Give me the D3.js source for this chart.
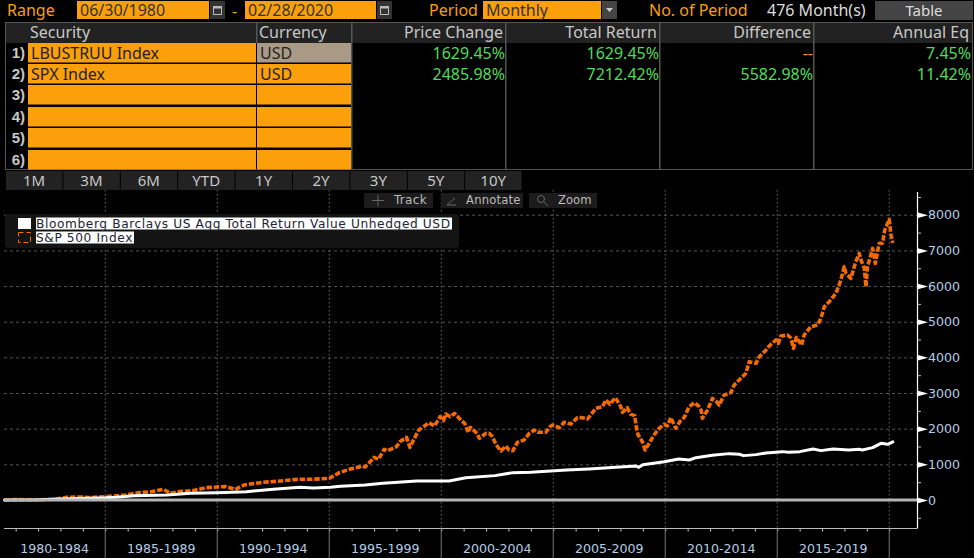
<!DOCTYPE html>
<html>
<head>
<meta charset="utf-8">
<script src="https://cdn.jsdelivr.net/npm/d3@7"></script>
<style>
  html, body { margin: 0; padding: 0; background: #000; overflow: hidden; }
  text { font-family: "DejaVu Sans", sans-serif; }
  .ui text { font-family: "Noto Sans", sans-serif; }
</style>
</head>
<body>
<svg id="chart" width="974" height="558"></svg>
<script>
// values (decimal year, cumulative total return %)
var spxYears = [1980.5, 1981, 1982, 1982.7, 1983.3, 1983.87, 1984.3, 1985, 1985.5, 1985.9, 1986.5, 1987.1, 1987.6, 1987.9, 1988.3, 1988.9, 1989.5, 1990, 1990.4, 1990.8, 1991.2, 1992, 1992.7, 1993.6, 1994.2, 1995, 1995.45, 1995.9, 1996.5, 1996.6, 1996.9, 1997, 1997.2, 1997.45, 1997.6, 1998, 1998.15, 1998.45, 1998.6, 1998.8, 1999, 1999.25, 1999.45, 1999.7, 1999.95, 2000.1, 2000.2, 2000.4, 2000.6, 2000.9, 2001.05, 2001.2, 2001.3, 2001.6, 2001.7, 2001.85, 2002, 2002.14, 2002.29, 2002.44, 2002.66, 2002.88, 2003.03, 2003.2, 2003.4, 2003.7, 2003.93, 2004.15, 2004.3, 2004.67, 2004.85, 2004.97, 2005.27, 2005.49, 2005.79, 2006.08, 2006.3, 2006.53, 2006.9, 2007.2, 2007.35, 2007.53, 2007.77, 2008.02, 2008.1, 2008.3, 2008.46, 2008.64, 2008.69, 2008.79, 2008.98, 2009.1, 2009.28, 2009.5, 2009.73, 2009.95, 2010.1, 2010.25, 2010.47, 2010.65, 2010.85, 2011.07, 2011.3, 2011.49, 2011.6, 2011.66, 2011.89, 2012.11, 2012.26, 2012.41, 2012.63, 2012.93, 2013.08, 2013.3, 2013.6, 2013.75, 2014.05, 2014.2, 2014.5, 2014.64, 2014.94, 2015.05, 2015.16, 2015.46, 2015.6, 2015.73, 2015.85, 2016.09, 2016.2, 2016.5, 2016.8, 2016.95, 2017.1, 2017.32, 2017.62, 2017.84, 2017.99, 2018.07, 2018.29, 2018.48, 2018.66, 2018.74, 2018.89, 2018.96, 2019.03, 2019.26, 2019.38, 2019.55, 2019.7, 2019.8, 2020, 2020.08, 2020.16];
var spxValues = [0, 10, 5, 20, 75, 85, 65, 93, 120, 140, 205, 235, 300, 187, 235, 262, 345, 365, 375, 300, 420, 495, 525, 580, 580, 608, 766, 860, 953, 925, 1122, 1197, 1141, 1421, 1383, 1495, 1635, 1757, 1477, 1729, 1963, 2075, 2168, 2075, 2337, 2224, 2412, 2337, 2430, 2224, 2150, 1898, 2038, 1870, 1729, 1800, 1870, 1869, 1776, 1561, 1374, 1514, 1402, 1384, 1617, 1682, 1869, 1963, 1898, 1898, 2056, 2103, 2028, 2178, 2131, 2309, 2309, 2271, 2571, 2617, 2804, 2683, 2869, 2617, 2458, 2589, 2402, 2365, 2103, 1823, 1635, 1402, 1589, 1823, 2010, 2122, 2080, 2309, 2010, 2197, 2318, 2617, 2729, 2636, 2524, 2290, 2524, 2851, 2780, 2664, 2944, 3010, 3225, 3365, 3552, 3879, 3832, 4019, 4206, 4318, 4487, 4393, 4599, 4627, 4550, 4254, 4560, 4347, 4627, 4860, 4907, 5094, 5420, 5560, 5795, 6169, 6542, 6356, 6216, 6637, 6917, 6730, 6497, 5981, 6542, 7057, 6637, 7197, 7200, 7571, 7870, 7431, 7212];

var aggYears = [1980.5, 1982, 1983, 1985, 1985.5, 1986.25, 1987.75, 1988.8, 1990, 1991.3, 1992.5, 1993.7, 1994.3, 1995.06, 1995.5, 1996.6, 1997.4, 1998.9, 2000.35, 2001.1, 2002.4, 2003.2, 2004, 2005.6, 2006.6, 2007.8, 2008.7, 2008.82, 2009, 2009.96, 2010.6, 2011.07, 2011.37, 2012.1, 2012.86, 2013.3, 2013.5, 2014.05, 2014.5, 2015.24, 2015.5, 2016, 2016.6, 2016.95, 2017.5, 2018.2, 2018.66, 2018.8, 2019.26, 2019.63, 2019.93, 2020.16];
var aggValues = [0, 5, 30, 60, 75, 121, 140, 187, 205, 234, 300, 355, 337, 355, 383, 420, 467, 533, 533, 626, 683, 767, 776, 841, 870, 916, 954, 916, 991, 1075, 1150, 1122, 1187, 1253, 1300, 1281, 1244, 1272, 1318, 1356, 1337, 1356, 1430, 1384, 1430, 1402, 1421, 1402, 1468, 1589, 1561, 1629];

var yMajor = [0, 1000, 2000, 3000, 4000, 5000, 6000, 7000, 8000];
var yMinor = [-500, 500, 1500, 2500, 3500, 4500, 5500, 6500, 7500, 8500];
var decadeTicks = [1985, 1990, 1995, 2000, 2005, 2010, 2015, 2020];
var yearTicks = d3.range(1981, 2021);
var periodLabels = ["1980-1984", "1985-1989", "1990-1994", "1995-1999", "2000-2004", "2005-2009", "2010-2014", "2015-2019"];
var periodStart = [1980, 1985, 1990, 1995, 2000, 2005, 2010, 2015];

var securities = ["LBUSTRUU Index", "SPX Index", "", "", "", ""];
var currencies = ["USD", "USD", "", "", "", ""];
var priceChange = ["1629.45%", "2485.98%"];
var totalReturn = ["1629.45%", "7212.42%"];
var difference = ["--", "5582.98%"];
var annualEq = ["7.45%", "11.42%"];
var rangeButtons = ["1M", "3M", "6M", "YTD", "1Y", "2Y", "3Y", "5Y", "10Y"];

var ORANGE = "#fb9f0a", LABEL = "#b4cde6", GREEN = "#4fdc5a";
var svg = d3.select("#chart");

// ---- top strip and table
var ui = svg.append("g").attr("class", "ui");

function label(g, x, y, str, fill, size, anchor) {
  return g.append("text").attr("x", x).attr("y", y).attr("fill", fill)
    .attr("font-size", size || 16).attr("text-anchor", anchor || "start").text(str);
}
function box(g, x, y, w, h, fill) {
  return g.append("rect").attr("x", x).attr("y", y).attr("width", w).attr("height", h).attr("fill", fill);
}
function calIcon(g, x) {
  box(g, x, 1, 15, 18, "#333");
  g.append("rect").attr("x", x + 3.5).attr("y", 6.5).attr("width", 8).attr("height", 8)
    .attr("fill", "none").attr("stroke", "#bbb");
  box(g, x + 3.5, 6, 8, 2.5, "#bbb");
}

label(ui, 7, 16, "Range", ORANGE);
box(ui, 77, 1, 132, 18, ORANGE);
label(ui, 80, 16, "06/30/1980", "#333");
calIcon(ui, 210);
label(ui, 232, 16.5, "-", ORANGE);
box(ui, 245, 1, 131, 18, ORANGE);
label(ui, 248, 16, "02/28/2020", "#333");
calIcon(ui, 377);
label(ui, 429, 16, "Period", ORANGE);
box(ui, 483, 1, 118, 18, ORANGE);
label(ui, 486, 16, "Monthly", "#333");
box(ui, 602, 1, 15, 18, "#444");
ui.append("path").attr("d", "M606,8h7l-3.5,4z").attr("fill", "#ccc");
label(ui, 649, 16, "No. of Period", ORANGE);
label(ui, 767, 16, "476 Month(s)", "#ddd");
box(ui, 875, 1, 98, 19, "#444");
label(ui, 924, 15.5, "Table", "#ddd", 15, "middle");

var colEdges = [28, 257, 352, 506, 660, 814, 972];
var headers = ["Security", "Currency", "Price Change", "Total Return", "Difference", "Annual Eq"];

// table frame + header
box(ui, 5, 22, 968, 148, "#555");
box(ui, 6, 23, 966, 146, "#000");
box(ui, 6, 23, 966, 20, "#222");
headers.forEach(function (h, i) {
  if (i > 0) box(ui, colEdges[i] - 1, 23, 1.5, i > 1 ? 146 : 20, "#555");
  if (i < 2) label(ui, colEdges[i] + 2, 37.5, h, "#c8c8c8");
  else label(ui, colEdges[i + 1] - 3, 37.5, h, "#c8c8c8", 16, "end");
});

var rowY = [43, 64, 85, 107, 128, 150];
securities.forEach(function (s, i) {
  box(ui, 28, rowY[i], 228, 19.5, ORANGE);
  box(ui, 257, rowY[i], 94, 19.5, i == 0 ? "#a89a85" : ORANGE);
  label(ui, 25, rowY[i] + 15, (i + 1) + ")", "#c8c8c8", 15, "end")
    .attr("font-weight", "bold").style("font-family", "'Liberation Sans Narrow', 'Liberation Sans', sans-serif");
  if (s) {
    label(ui, 31, rowY[i] + 15.5, s, "#222");
    label(ui, 260, rowY[i] + 15.5, currencies[i], "#222");
  }
});
[priceChange, totalReturn, difference, annualEq].forEach(function (col, c) {
  col.forEach(function (v, i) {
    label(ui, colEdges[c + 3] - 1, rowY[i] + 15.5, v, v == "--" ? ORANGE : GREEN, 16, "end");
  });
});

rangeButtons.forEach(function (b, i) {
  box(ui, 6 + i * 57.4, 171, 56.4, 19, "#222");
  label(ui, 34 + i * 57.4, 186, b, "#c8c8c8", 15, "middle");
});

// ---- chart
var x = d3.scaleLinear().domain([1980.48, 2021.24]).range([4, 917]);
var y = d3.scaleLinear().domain([-800, 8700]).range([528.5, 189.8]);

// grid
svg.append("g").selectAll("line").data(yMajor).enter().append("line")
  .attr("x1", 4).attr("x2", 917)
  .attr("y1", function (d) { return y(d) + 0.5; }).attr("y2", function (d) { return y(d) + 0.5; })
  .attr("stroke", "#555").attr("stroke-dasharray", "3,3");
svg.append("g").selectAll("line").data(decadeTicks).enter().append("line")
  .attr("x1", function (d) { return x(d); }).attr("x2", function (d) { return x(d); })
  .attr("y1", 190).attr("y2", 528)
  .attr("stroke", "#666").attr("stroke-dasharray", "1.5,2.5");

// series
var line = d3.line().x(function (d) { return x(d[0]); }).y(function (d) { return y(d[1]); });
svg.append("path").datum(d3.zip(spxYears, spxValues)).attr("d", line)
  .attr("fill", "none").attr("stroke", "#f26a02").attr("stroke-width", 3.6)
  .attr("stroke-linejoin", "round").attr("stroke-dasharray", "5.5,1.8");
svg.append("path").datum(d3.zip(aggYears, aggValues)).attr("d", line)
  .attr("fill", "none").attr("stroke", "#fff").attr("stroke-width", 3)
  .attr("stroke-linejoin", "round").attr("stroke-linecap", "round");

// zero line
svg.append("line").attr("x1", 4).attr("x2", 917).attr("y1", y(0)).attr("y2", y(0))
  .attr("stroke", "#b4b4b4").attr("stroke-width", 3);

// y axis
var yAxis = svg.append("g").attr("transform", "translate(917,0)")
  .call(d3.axisRight(y).tickValues(yMajor).tickSize(0).tickPadding(11).tickFormat(d3.format("d")));
yAxis.select(".domain").remove();
yAxis.selectAll("text").attr("fill", LABEL).attr("font-size", 12.6);
yAxis.selectAll(".tick").append("path").attr("d", "M0,-3L11,0L0,3z").attr("fill", "#fff");
var yMinorAxis = svg.append("g").attr("transform", "translate(917,0)")
  .call(d3.axisRight(y).tickValues(yMinor).tickSize(4).tickFormat(""));
yMinorAxis.select(".domain").remove();
yMinorAxis.selectAll("line").attr("stroke", "#bbb");
svg.append("line").attr("x1", 917.5).attr("x2", 917.5).attr("y1", 192).attr("y2", 528.5)
  .attr("stroke", "#fff").attr("stroke-width", 1.2);

// x axis
var xAxis = svg.append("g").attr("transform", "translate(0,528.5)")
  .call(d3.axisBottom(x).tickValues(yearTicks).tickSize(3).tickFormat(""));
xAxis.select(".domain").remove();
xAxis.selectAll("line").attr("stroke", "#ccc");
svg.append("line").attr("x1", 4).attr("x2", 917).attr("y1", 528.5).attr("y2", 528.5).attr("stroke", "#bbb");
svg.append("g").selectAll("line").data(decadeTicks).enter().append("line")
  .attr("x1", function (d) { return x(d); }).attr("x2", function (d) { return x(d); })
  .attr("y1", 528.5).attr("y2", 558).attr("stroke", "#777");
svg.append("g").selectAll("text").data(periodLabels).enter().append("text")
  .attr("x", function (d, i) {
    var a = Math.max(x(periodStart[i]), 4);
    return (a + x(periodStart[i] + 5)) / 2;
  })
  .attr("y", 553).attr("text-anchor", "middle").attr("fill", LABEL).attr("font-size", 12.6).text(function (d) { return d; });

// legend
var lg = svg.append("g");
lg.append("rect").attr("x", 5).attr("y", 214).attr("width", 454).attr("height", 34).attr("rx", 3).attr("fill", "#141414");
box(lg, 18, 218, 13, 11, "#fff");
lg.append("rect").attr("x", 18.5).attr("y", 232.5).attr("width", 12).attr("height", 10).attr("fill", "none")
  .attr("stroke", "#f26a02").attr("stroke-dasharray", "5,3");
box(lg, 36, 217.5, 416, 12, "#fff");
box(lg, 36, 231.5, 98, 12, "#fff");
label(lg, 36, 227.5, "Bloomberg Barclays US Agg Total Return Value Unhedged USD", "#223", 12.2).attr("letter-spacing", 0.6);
label(lg, 36, 242, "S&P 500 Index", "#223", 12.2).attr("letter-spacing", 0.6);

// toolbar
var tb = svg.append("g");
box(tb, 364, 193, 69, 15, "#1c1c1c");
box(tb, 441, 193, 82, 15, "#1c1c1c");
box(tb, 529, 193, 68, 15, "#1c1c1c");
label(tb, 394, 204, "Track", "#bbb", 12).attr("letter-spacing", 0.3);
label(tb, 466, 204, "Annotate", "#bbb", 11.6).attr("letter-spacing", 0.2);
label(tb, 558, 204, "Zoom", "#bbb", 11.6);
tb.append("path").attr("d", "M372,200.5h12M378,195v11").attr("stroke", "#666").attr("fill", "none");
tb.append("path").attr("d", "M447,205l8,-7M447,205h9").attr("stroke", "#666").attr("fill", "none");
tb.append("circle").attr("cx", 541).attr("cy", 199).attr("r", 3.5).attr("stroke", "#666").attr("fill", "none");
tb.append("path").attr("d", "M544,202l4,4").attr("stroke", "#666");
</script>
</body>
</html>
